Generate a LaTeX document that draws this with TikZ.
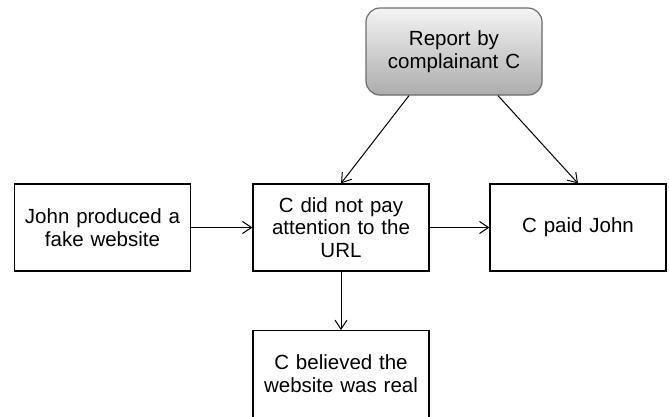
\documentclass[tikz,border=0pt]{standalone}
\usepackage{fontspec}
\setmainfont{Liberation Sans}
\usetikzlibrary{arrows.meta,shadows}
\definecolor{topgray}{HTML}{F4F4F4}
\definecolor{botgray}{HTML}{ACACAC}
\definecolor{edgegray}{HTML}{6E6E6E}
\begin{document}
\begin{tikzpicture}[x=1pt,y=-1pt,
  label text/.style={align=center,text width=170pt,inner sep=2pt,font=\fontsize{20.5}{22.5}\selectfont},
  box/.style={label text,draw=black,line width=1.2pt,minimum width=176pt,minimum height=87pt},
  topbox/.style={box,draw=edgegray,rounded corners=14pt,top color=topgray,bottom color=botgray,
    drop shadow={shadow xshift=1pt,shadow yshift=-1pt,opacity=0.15}},
  link/.style={line width=1pt,-{Straight Barb[length=9pt,width=12pt,line width=1pt]}}]
\useasboundingbox (0,0) rectangle (669,416);
\clip (0,0) rectangle (669,416);
\node[topbox] (rep) at (454,51.5) {Report by\\complainant C};
\node[box] (john) at (102.5,227.5) {John produced a\\fake website};
\node[box] (url) at (341,227.5) {C did not pay\\attention to the\\URL};
\node[box] (paid) at (578,227.5) {C paid John};
\node[box,minimum height=100pt,anchor=north] (bel) at (341,330) {};
\node[label text] (beltext) at (341,373.5) {C believed the\\website was real};
\draw[link] ([xshift=-45pt]rep.south) -- (url.north);
\draw[link] ([xshift=44pt]rep.south) -- (paid.north);
\draw[link] (john.east) -- (url.west);
\draw[link] (url.east) -- (paid.west);
\draw[link] (url.south) -- (bel.north);
\end{tikzpicture}
\end{document}
